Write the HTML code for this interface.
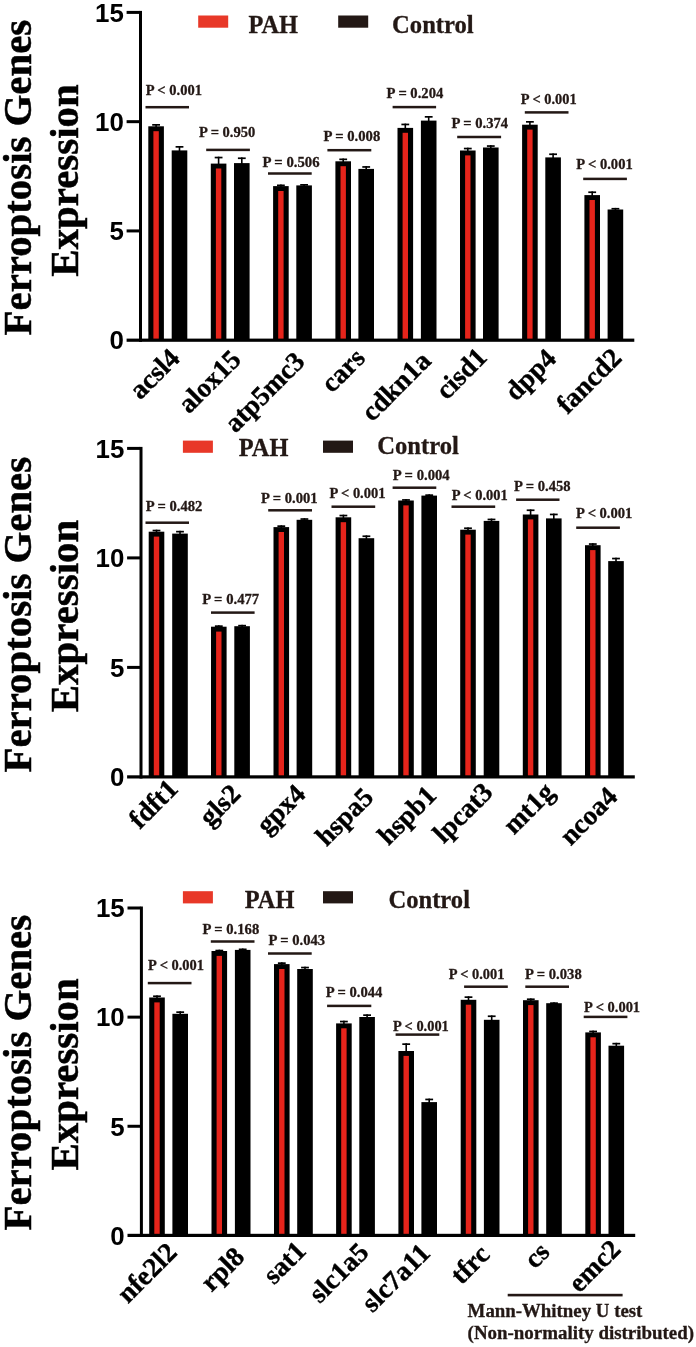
<!DOCTYPE html>
<html><head><meta charset="utf-8"><title>Ferroptosis Genes Expression</title>
<style>
html,body{margin:0;padding:0;background:#fff;}
body{width:696px;height:1347px;overflow:hidden;}
svg{display:block;will-change:transform;}
.se{font-family:"Liberation Serif",serif;font-weight:bold;}
.sa{font-family:"Liberation Sans",sans-serif;font-weight:bold;}
</style></head><body>
<svg width="696" height="1347" viewBox="0 0 696 1347">
<rect width="696" height="1347" fill="#fff"/>
<g>
<text class="se" font-size="40.9" fill="#000" stroke="#000" stroke-width="0.5" text-anchor="middle" textLength="315.6" lengthAdjust="spacingAndGlyphs" transform="translate(31.2,177.6) rotate(-90)">Ferroptosis Genes</text>
<text class="se" font-size="40.9" fill="#000" stroke="#000" stroke-width="0.5" text-anchor="middle" textLength="192.3" lengthAdjust="spacingAndGlyphs" transform="translate(78,180.5) rotate(-90)">Expression</text>
<rect x="155.3" y="124" width="1.6" height="3.3" fill="#000"/><rect x="152.2" y="124" width="7.8" height="1.7" fill="#000"/><rect x="178.7" y="146" width="1.6" height="5.4" fill="#000"/><rect x="175.6" y="146" width="7.8" height="1.7" fill="#000"/><rect x="148.3" y="126.3" width="15.6" height="213.9" fill="#000"/><rect x="153.4" y="131.2" width="5.4" height="209" fill="#E6241B"/><rect x="171.7" y="150.4" width="15.6" height="189.8" fill="#000"/>
<rect x="217.8" y="156.7" width="1.6" height="7.9" fill="#000"/><rect x="214.7" y="156.7" width="7.8" height="1.7" fill="#000"/><rect x="241" y="157.4" width="1.6" height="6.7" fill="#000"/><rect x="237.9" y="157.4" width="7.8" height="1.7" fill="#000"/><rect x="210.8" y="163.6" width="15.6" height="176.6" fill="#000"/><rect x="215.9" y="168.5" width="5.4" height="171.7" fill="#E6241B"/><rect x="234" y="163.1" width="15.6" height="177.1" fill="#000"/>
<rect x="280.1" y="184.5" width="1.6" height="2.6" fill="#000"/><rect x="277" y="184.5" width="7.8" height="1.7" fill="#000"/><rect x="303.3" y="184" width="1.6" height="2.4" fill="#000"/><rect x="300.2" y="184" width="7.8" height="1.7" fill="#000"/><rect x="273.1" y="186.1" width="15.6" height="154.1" fill="#000"/><rect x="278.2" y="191" width="5.4" height="149.2" fill="#E6241B"/><rect x="296.3" y="185.4" width="15.6" height="154.8" fill="#000"/>
<rect x="342.4" y="158.5" width="1.6" height="3.8" fill="#000"/><rect x="339.3" y="158.5" width="7.8" height="1.7" fill="#000"/><rect x="365.4" y="166.1" width="1.6" height="3.8" fill="#000"/><rect x="362.3" y="166.1" width="7.8" height="1.7" fill="#000"/><rect x="335.4" y="161.3" width="15.6" height="178.9" fill="#000"/><rect x="340.5" y="166.2" width="5.4" height="174" fill="#E6241B"/><rect x="358.4" y="168.9" width="15.6" height="171.3" fill="#000"/>
<rect x="404.5" y="123.6" width="1.6" height="5.3" fill="#000"/><rect x="401.4" y="123.6" width="7.8" height="1.7" fill="#000"/><rect x="427.9" y="116" width="1.6" height="5.6" fill="#000"/><rect x="424.8" y="116" width="7.8" height="1.7" fill="#000"/><rect x="397.5" y="127.9" width="15.6" height="212.3" fill="#000"/><rect x="402.6" y="132.8" width="5.4" height="207.4" fill="#E6241B"/><rect x="420.9" y="120.6" width="15.6" height="219.6" fill="#000"/>
<rect x="467" y="147.7" width="1.6" height="3.8" fill="#000"/><rect x="463.9" y="147.7" width="7.8" height="1.7" fill="#000"/><rect x="490" y="145.2" width="1.6" height="3.3" fill="#000"/><rect x="486.9" y="145.2" width="7.8" height="1.7" fill="#000"/><rect x="460" y="150.5" width="15.6" height="189.7" fill="#000"/><rect x="465.1" y="155.4" width="5.4" height="184.8" fill="#E6241B"/><rect x="483" y="147.5" width="15.6" height="192.7" fill="#000"/>
<rect x="529.1" y="121" width="1.6" height="4.7" fill="#000"/><rect x="526" y="121" width="7.8" height="1.7" fill="#000"/><rect x="552.3" y="153.4" width="1.6" height="5" fill="#000"/><rect x="549.2" y="153.4" width="7.8" height="1.7" fill="#000"/><rect x="522.1" y="124.7" width="15.6" height="215.5" fill="#000"/><rect x="527.2" y="129.6" width="5.4" height="210.6" fill="#E6241B"/><rect x="545.3" y="157.4" width="15.6" height="182.8" fill="#000"/>
<rect x="591.4" y="191.4" width="1.6" height="4.7" fill="#000"/><rect x="588.3" y="191.4" width="7.8" height="1.7" fill="#000"/><rect x="614.6" y="207.9" width="1.6" height="2.6" fill="#000"/><rect x="611.5" y="207.9" width="7.8" height="1.7" fill="#000"/><rect x="584.4" y="195.1" width="15.6" height="145.1" fill="#000"/><rect x="589.5" y="200" width="5.4" height="140.2" fill="#E6241B"/><rect x="607.6" y="209.5" width="15.6" height="130.7" fill="#000"/>
<rect x="139" y="10.9" width="3" height="330.9" fill="#000"/><rect x="126.6" y="338.6" width="507.7" height="3.2" fill="#000"/><rect x="126.6" y="10.9" width="13" height="3" fill="#000"/><rect x="126.6" y="120.17" width="13" height="3" fill="#000"/><rect x="126.6" y="229.43" width="13" height="3" fill="#000"/><text class="sa" font-size="25.9" fill="#000" text-anchor="end" x="123.8" y="21.65">15</text><text class="sa" font-size="25.9" fill="#000" text-anchor="end" x="123.8" y="130.92">10</text><text class="sa" font-size="25.9" fill="#000" text-anchor="end" x="123.8" y="240.18">5</text><text class="sa" font-size="25.9" fill="#000" text-anchor="end" x="123.8" y="349.45">0</text>
<rect x="145.5" y="105.95" width="43.5" height="2.5" fill="#231815"/><text class="se" font-size="14.6" fill="#231815" stroke="#231815" stroke-width="0.3" x="145.7" y="94.8" textLength="56.2" lengthAdjust="spacingAndGlyphs">P &lt; 0.001</text>
<rect x="206.2" y="148.65" width="43.7" height="2.5" fill="#231815"/><text class="se" font-size="14.6" fill="#231815" stroke="#231815" stroke-width="0.3" x="199" y="137.3" textLength="56.3" lengthAdjust="spacingAndGlyphs">P = 0.950</text>
<rect x="268" y="172.25" width="43.7" height="2.5" fill="#231815"/><text class="se" font-size="14.6" fill="#231815" stroke="#231815" stroke-width="0.3" x="262.5" y="166.7" textLength="57.1" lengthAdjust="spacingAndGlyphs">P = 0.506</text>
<rect x="327.4" y="148.95" width="43.9" height="2.5" fill="#231815"/><text class="se" font-size="14.6" fill="#231815" stroke="#231815" stroke-width="0.3" x="323.4" y="141.2" textLength="56.9" lengthAdjust="spacingAndGlyphs">P = 0.008</text>
<rect x="392.6" y="105.85" width="43.5" height="2.5" fill="#231815"/><text class="se" font-size="14.6" fill="#231815" stroke="#231815" stroke-width="0.3" x="386.6" y="98.4" textLength="56.7" lengthAdjust="spacingAndGlyphs">P = 0.204</text>
<rect x="457.2" y="135.75" width="43.9" height="2.5" fill="#231815"/><text class="se" font-size="14.6" fill="#231815" stroke="#231815" stroke-width="0.3" x="451.4" y="128.1" textLength="56.7" lengthAdjust="spacingAndGlyphs">P = 0.374</text>
<rect x="524.8" y="111.15" width="43.7" height="2.5" fill="#231815"/><text class="se" font-size="14.6" fill="#231815" stroke="#231815" stroke-width="0.3" x="520.8" y="103.6" textLength="55.8" lengthAdjust="spacingAndGlyphs">P &lt; 0.001</text>
<rect x="583.2" y="177.65" width="43.7" height="2.5" fill="#231815"/><text class="se" font-size="14.6" fill="#231815" stroke="#231815" stroke-width="0.3" x="576.3" y="169" textLength="56.4" lengthAdjust="spacingAndGlyphs">P &lt; 0.001</text>
<text class="se" font-size="27.3" fill="#000" stroke="#000" stroke-width="0.4" text-anchor="end" transform="translate(181.1,359.8) rotate(-45)">acsl4</text>
<text class="se" font-size="27.3" fill="#000" stroke="#000" stroke-width="0.4" text-anchor="end" transform="translate(242.5,361) rotate(-45)">alox15</text>
<text class="se" font-size="27.3" fill="#000" stroke="#000" stroke-width="0.4" text-anchor="end" transform="translate(306.2,363) rotate(-45)">atp5mc3</text>
<text class="se" font-size="27.3" fill="#000" stroke="#000" stroke-width="0.4" text-anchor="end" transform="translate(366.4,359.5) rotate(-45)">cars</text>
<text class="se" font-size="27.3" fill="#000" stroke="#000" stroke-width="0.4" text-anchor="end" transform="translate(432.4,362.4) rotate(-45)">cdkn1a</text>
<text class="se" font-size="27.3" fill="#000" stroke="#000" stroke-width="0.4" text-anchor="end" transform="translate(488.5,358.9) rotate(-45)">cisd1</text>
<text class="se" font-size="27.3" fill="#000" stroke="#000" stroke-width="0.4" text-anchor="end" transform="translate(557.6,360.1) rotate(-45)">dpp4</text>
<text class="se" font-size="27.3" fill="#000" stroke="#000" stroke-width="0.4" text-anchor="end" transform="translate(623.2,359.3) rotate(-45)">fancd2</text>
<rect x="198.2" y="15.5" width="30" height="12.2" fill="#E83828"/><rect x="338.2" y="15.5" width="30" height="12.2" fill="#231815"/><text class="se" font-size="24.2" fill="#231815" stroke="#231815" stroke-width="0.3" x="248.4" y="32.8" textLength="49.6" lengthAdjust="spacingAndGlyphs">PAH</text><text class="se" font-size="24.2" fill="#231815" stroke="#231815" stroke-width="0.3" x="392.1" y="32.8" textLength="81.6" lengthAdjust="spacingAndGlyphs">Control</text>
</g>
<g>
<text class="se" font-size="40.9" fill="#000" stroke="#000" stroke-width="0.5" text-anchor="middle" textLength="315.6" lengthAdjust="spacingAndGlyphs" transform="translate(31.2,614.7) rotate(-90)">Ferroptosis Genes</text>
<text class="se" font-size="40.9" fill="#000" stroke="#000" stroke-width="0.5" text-anchor="middle" textLength="192.3" lengthAdjust="spacingAndGlyphs" transform="translate(78,616) rotate(-90)">Expression</text>
<rect x="155.7" y="529.7" width="1.6" height="3" fill="#000"/><rect x="152.6" y="529.7" width="7.8" height="1.7" fill="#000"/><rect x="179.2" y="530.8" width="1.6" height="3.8" fill="#000"/><rect x="176.1" y="530.8" width="7.8" height="1.7" fill="#000"/><rect x="148.7" y="531.7" width="15.6" height="245.2" fill="#000"/><rect x="153.8" y="536.6" width="5.4" height="240.3" fill="#E6241B"/><rect x="172.2" y="533.6" width="15.6" height="243.3" fill="#000"/>
<rect x="218" y="625.3" width="1.6" height="2.4" fill="#000"/><rect x="214.9" y="625.3" width="7.8" height="1.7" fill="#000"/><rect x="241.3" y="624.8" width="1.6" height="2.4" fill="#000"/><rect x="238.2" y="624.8" width="7.8" height="1.7" fill="#000"/><rect x="211" y="626.7" width="15.6" height="150.2" fill="#000"/><rect x="216.1" y="631.6" width="5.4" height="145.3" fill="#E6241B"/><rect x="234.3" y="626.2" width="15.6" height="150.7" fill="#000"/>
<rect x="280.5" y="525.3" width="1.6" height="2.8" fill="#000"/><rect x="277.4" y="525.3" width="7.8" height="1.7" fill="#000"/><rect x="303.6" y="518.2" width="1.6" height="2.6" fill="#000"/><rect x="300.5" y="518.2" width="7.8" height="1.7" fill="#000"/><rect x="273.5" y="527.1" width="15.6" height="249.8" fill="#000"/><rect x="278.6" y="532" width="5.4" height="244.9" fill="#E6241B"/><rect x="296.6" y="519.8" width="15.6" height="257.1" fill="#000"/>
<rect x="342.6" y="514.7" width="1.6" height="3.6" fill="#000"/><rect x="339.5" y="514.7" width="7.8" height="1.7" fill="#000"/><rect x="365.6" y="535.4" width="1.6" height="3.8" fill="#000"/><rect x="362.5" y="535.4" width="7.8" height="1.7" fill="#000"/><rect x="335.6" y="517.3" width="15.6" height="259.6" fill="#000"/><rect x="340.7" y="522.2" width="5.4" height="254.7" fill="#E6241B"/><rect x="358.6" y="538.2" width="15.6" height="238.7" fill="#000"/>
<rect x="405.2" y="499.1" width="1.6" height="2.4" fill="#000"/><rect x="402.1" y="499.1" width="7.8" height="1.7" fill="#000"/><rect x="428.4" y="494.3" width="1.6" height="2.3" fill="#000"/><rect x="425.3" y="494.3" width="7.8" height="1.7" fill="#000"/><rect x="398.2" y="500.5" width="15.6" height="276.4" fill="#000"/><rect x="403.3" y="505.4" width="5.4" height="271.5" fill="#E6241B"/><rect x="421.4" y="495.6" width="15.6" height="281.3" fill="#000"/>
<rect x="467.2" y="527.4" width="1.6" height="3.3" fill="#000"/><rect x="464.1" y="527.4" width="7.8" height="1.7" fill="#000"/><rect x="490.7" y="518.6" width="1.6" height="3.3" fill="#000"/><rect x="487.6" y="518.6" width="7.8" height="1.7" fill="#000"/><rect x="460.2" y="529.7" width="15.6" height="247.2" fill="#000"/><rect x="465.3" y="534.6" width="5.4" height="242.3" fill="#E6241B"/><rect x="483.7" y="520.9" width="15.6" height="256" fill="#000"/>
<rect x="529.8" y="509.4" width="1.6" height="6.1" fill="#000"/><rect x="526.7" y="509.4" width="7.8" height="1.7" fill="#000"/><rect x="553" y="513.6" width="1.6" height="5.8" fill="#000"/><rect x="549.9" y="513.6" width="7.8" height="1.7" fill="#000"/><rect x="522.8" y="514.5" width="15.6" height="262.4" fill="#000"/><rect x="527.9" y="519.4" width="5.4" height="257.5" fill="#E6241B"/><rect x="546" y="518.4" width="15.6" height="258.5" fill="#000"/>
<rect x="592" y="543.2" width="1.6" height="3" fill="#000"/><rect x="588.9" y="543.2" width="7.8" height="1.7" fill="#000"/><rect x="615.2" y="557.7" width="1.6" height="4.4" fill="#000"/><rect x="612.1" y="557.7" width="7.8" height="1.7" fill="#000"/><rect x="585" y="545.2" width="15.6" height="231.7" fill="#000"/><rect x="590.1" y="550.1" width="5.4" height="226.8" fill="#E6241B"/><rect x="608.2" y="561.1" width="15.6" height="215.8" fill="#000"/>
<rect x="139.5" y="446.9" width="3" height="331.6" fill="#000"/><rect x="127.1" y="775.3" width="507.7" height="3.2" fill="#000"/><rect x="127.1" y="446.9" width="13" height="3" fill="#000"/><rect x="127.1" y="556.4" width="13" height="3" fill="#000"/><rect x="127.1" y="665.9" width="13" height="3" fill="#000"/><text class="sa" font-size="25.9" fill="#000" text-anchor="end" x="124.3" y="457.65">15</text><text class="sa" font-size="25.9" fill="#000" text-anchor="end" x="124.3" y="567.15">10</text><text class="sa" font-size="25.9" fill="#000" text-anchor="end" x="124.3" y="676.65">5</text><text class="sa" font-size="25.9" fill="#000" text-anchor="end" x="124.3" y="786.15">0</text>
<rect x="145.5" y="521.45" width="43.5" height="2.5" fill="#231815"/><text class="se" font-size="14.6" fill="#231815" stroke="#231815" stroke-width="0.3" x="145.7" y="510.7" textLength="56.6" lengthAdjust="spacingAndGlyphs">P = 0.482</text>
<rect x="211" y="611.35" width="43.6" height="2.5" fill="#231815"/><text class="se" font-size="14.6" fill="#231815" stroke="#231815" stroke-width="0.3" x="202.3" y="604.3" textLength="56.9" lengthAdjust="spacingAndGlyphs">P = 0.477</text>
<rect x="268.2" y="509.05" width="43.8" height="2.5" fill="#231815"/><text class="se" font-size="14.6" fill="#231815" stroke="#231815" stroke-width="0.3" x="261" y="503" textLength="56.5" lengthAdjust="spacingAndGlyphs">P = 0.001</text>
<rect x="331.5" y="505.45" width="43.7" height="2.5" fill="#231815"/><text class="se" font-size="14.6" fill="#231815" stroke="#231815" stroke-width="0.3" x="329.4" y="498" textLength="56" lengthAdjust="spacingAndGlyphs">P &lt; 0.001</text>
<rect x="392.6" y="486.45" width="43.7" height="2.5" fill="#231815"/><text class="se" font-size="14.6" fill="#231815" stroke="#231815" stroke-width="0.3" x="392.8" y="479.9" textLength="56.9" lengthAdjust="spacingAndGlyphs">P = 0.004</text>
<rect x="451.5" y="505.45" width="43.7" height="2.5" fill="#231815"/><text class="se" font-size="14.6" fill="#231815" stroke="#231815" stroke-width="0.3" x="451.7" y="500" textLength="56" lengthAdjust="spacingAndGlyphs">P &lt; 0.001</text>
<rect x="516.1" y="498.45" width="43.4" height="2.5" fill="#231815"/><text class="se" font-size="14.6" fill="#231815" stroke="#231815" stroke-width="0.3" x="514" y="491.4" textLength="56.6" lengthAdjust="spacingAndGlyphs">P = 0.458</text>
<rect x="576.2" y="526.45" width="43.7" height="2.5" fill="#231815"/><text class="se" font-size="14.6" fill="#231815" stroke="#231815" stroke-width="0.3" x="575.9" y="517.6" textLength="56.5" lengthAdjust="spacingAndGlyphs">P &lt; 0.001</text>
<text class="se" font-size="27.3" fill="#000" stroke="#000" stroke-width="0.4" text-anchor="end" transform="translate(179.45,790.3) rotate(-45)">fdft1</text>
<text class="se" font-size="27.3" fill="#000" stroke="#000" stroke-width="0.4" text-anchor="end" transform="translate(242.25,795.4) rotate(-45)">gls2</text>
<text class="se" font-size="27.3" fill="#000" stroke="#000" stroke-width="0.4" text-anchor="end" transform="translate(306.85,795.5) rotate(-45)">gpx4</text>
<text class="se" font-size="27.3" fill="#000" stroke="#000" stroke-width="0.4" text-anchor="end" transform="translate(374.9,798.9) rotate(-45)">hspa5</text>
<text class="se" font-size="27.3" fill="#000" stroke="#000" stroke-width="0.4" text-anchor="end" transform="translate(437.8,796.8) rotate(-45)">hspb1</text>
<text class="se" font-size="27.3" fill="#000" stroke="#000" stroke-width="0.4" text-anchor="end" transform="translate(494.25,793.8) rotate(-45)">lpcat3</text>
<text class="se" font-size="27.3" fill="#000" stroke="#000" stroke-width="0.4" text-anchor="end" transform="translate(555.8,793.7) rotate(-45)">mt1g</text>
<text class="se" font-size="27.3" fill="#000" stroke="#000" stroke-width="0.4" text-anchor="end" transform="translate(618.9,798.2) rotate(-45)">ncoa4</text>
<rect x="182.9" y="440.6" width="30" height="12.2" fill="#E83828"/><rect x="323" y="440.6" width="30" height="12.2" fill="#231815"/><text class="se" font-size="24.2" fill="#231815" stroke="#231815" stroke-width="0.3" x="238.8" y="455.7" textLength="49.6" lengthAdjust="spacingAndGlyphs">PAH</text><text class="se" font-size="24.2" fill="#231815" stroke="#231815" stroke-width="0.3" x="377.2" y="453.9" textLength="81.6" lengthAdjust="spacingAndGlyphs">Control</text>
</g>
<g>
<text class="se" font-size="40.9" fill="#000" stroke="#000" stroke-width="0.5" text-anchor="middle" textLength="315.6" lengthAdjust="spacingAndGlyphs" transform="translate(31.2,1072.7) rotate(-90)">Ferroptosis Genes</text>
<text class="se" font-size="40.9" fill="#000" stroke="#000" stroke-width="0.5" text-anchor="middle" textLength="192.3" lengthAdjust="spacingAndGlyphs" transform="translate(78,1074.4) rotate(-90)">Expression</text>
<rect x="156.2" y="995.4" width="1.6" height="3.1" fill="#000"/><rect x="153.1" y="995.4" width="7.8" height="1.7" fill="#000"/><rect x="179.4" y="1011.3" width="1.6" height="3.5" fill="#000"/><rect x="176.3" y="1011.3" width="7.8" height="1.7" fill="#000"/><rect x="149.2" y="997.5" width="15.6" height="237.9" fill="#000"/><rect x="154.3" y="1002.4" width="5.4" height="233" fill="#E6241B"/><rect x="172.4" y="1013.8" width="15.6" height="221.6" fill="#000"/>
<rect x="218.5" y="949.7" width="1.6" height="2.3" fill="#000"/><rect x="215.4" y="949.7" width="7.8" height="1.7" fill="#000"/><rect x="241.9" y="948.5" width="1.6" height="2.4" fill="#000"/><rect x="238.8" y="948.5" width="7.8" height="1.7" fill="#000"/><rect x="211.5" y="951" width="15.6" height="284.4" fill="#000"/><rect x="216.6" y="955.9" width="5.4" height="279.5" fill="#E6241B"/><rect x="234.9" y="949.9" width="15.6" height="285.5" fill="#000"/>
<rect x="281" y="962.3" width="1.6" height="2.8" fill="#000"/><rect x="277.9" y="962.3" width="7.8" height="1.7" fill="#000"/><rect x="304.2" y="966.7" width="1.6" height="3.3" fill="#000"/><rect x="301.1" y="966.7" width="7.8" height="1.7" fill="#000"/><rect x="274" y="964.1" width="15.6" height="271.3" fill="#000"/><rect x="279.1" y="969" width="5.4" height="266.4" fill="#E6241B"/><rect x="297.2" y="969" width="15.6" height="266.4" fill="#000"/>
<rect x="343.1" y="1020.7" width="1.6" height="3.7" fill="#000"/><rect x="340" y="1020.7" width="7.8" height="1.7" fill="#000"/><rect x="366.3" y="1014.3" width="1.6" height="3.7" fill="#000"/><rect x="363.2" y="1014.3" width="7.8" height="1.7" fill="#000"/><rect x="336.1" y="1023.4" width="15.6" height="212" fill="#000"/><rect x="341.2" y="1028.3" width="5.4" height="207.1" fill="#E6241B"/><rect x="359.3" y="1017" width="15.6" height="218.4" fill="#000"/>
<rect x="405.4" y="1043.3" width="1.6" height="8.7" fill="#000"/><rect x="402.3" y="1043.3" width="7.8" height="1.7" fill="#000"/><rect x="428.4" y="1098.6" width="1.6" height="4.5" fill="#000"/><rect x="425.3" y="1098.6" width="7.8" height="1.7" fill="#000"/><rect x="398.4" y="1051" width="15.6" height="184.4" fill="#000"/><rect x="403.5" y="1055.9" width="5.4" height="179.5" fill="#E6241B"/><rect x="421.4" y="1102.1" width="15.6" height="133.3" fill="#000"/>
<rect x="467.7" y="996.3" width="1.6" height="4.5" fill="#000"/><rect x="464.6" y="996.3" width="7.8" height="1.7" fill="#000"/><rect x="490.9" y="1015.4" width="1.6" height="5.4" fill="#000"/><rect x="487.8" y="1015.4" width="7.8" height="1.7" fill="#000"/><rect x="460.7" y="999.8" width="15.6" height="235.6" fill="#000"/><rect x="465.8" y="1004.7" width="5.4" height="230.7" fill="#E6241B"/><rect x="483.9" y="1019.8" width="15.6" height="215.6" fill="#000"/>
<rect x="530" y="998.4" width="1.6" height="2.8" fill="#000"/><rect x="526.9" y="998.4" width="7.8" height="1.7" fill="#000"/><rect x="553.2" y="1002.3" width="1.6" height="1.9" fill="#000"/><rect x="550.1" y="1002.3" width="7.8" height="1.7" fill="#000"/><rect x="523" y="1000.2" width="15.6" height="235.2" fill="#000"/><rect x="528.1" y="1005.1" width="5.4" height="230.3" fill="#E6241B"/><rect x="546.2" y="1003.2" width="15.6" height="232.2" fill="#000"/>
<rect x="592.3" y="1030.6" width="1.6" height="2.8" fill="#000"/><rect x="589.2" y="1030.6" width="7.8" height="1.7" fill="#000"/><rect x="615.5" y="1042.8" width="1.6" height="3.9" fill="#000"/><rect x="612.4" y="1042.8" width="7.8" height="1.7" fill="#000"/><rect x="585.3" y="1032.4" width="15.6" height="203" fill="#000"/><rect x="590.4" y="1037.3" width="5.4" height="198.1" fill="#E6241B"/><rect x="608.5" y="1045.7" width="15.6" height="189.7" fill="#000"/>
<rect x="139.9" y="906.5" width="3" height="330.5" fill="#000"/><rect x="127.5" y="1233.8" width="507.7" height="3.2" fill="#000"/><rect x="127.5" y="906.5" width="13" height="3" fill="#000"/><rect x="127.5" y="1015.63" width="13" height="3" fill="#000"/><rect x="127.5" y="1124.77" width="13" height="3" fill="#000"/><text class="sa" font-size="25.9" fill="#000" text-anchor="end" x="124.7" y="917.25">15</text><text class="sa" font-size="25.9" fill="#000" text-anchor="end" x="124.7" y="1026.38">10</text><text class="sa" font-size="25.9" fill="#000" text-anchor="end" x="124.7" y="1135.52">5</text><text class="sa" font-size="25.9" fill="#000" text-anchor="end" x="124.7" y="1244.65">0</text>
<rect x="147.8" y="981.85" width="43.7" height="2.5" fill="#231815"/><text class="se" font-size="14.6" fill="#231815" stroke="#231815" stroke-width="0.3" x="148" y="970" textLength="56" lengthAdjust="spacingAndGlyphs">P &lt; 0.001</text>
<rect x="210.8" y="940.25" width="43.7" height="2.5" fill="#231815"/><text class="se" font-size="14.6" fill="#231815" stroke="#231815" stroke-width="0.3" x="202.5" y="933.7" textLength="56.7" lengthAdjust="spacingAndGlyphs">P = 0.168</text>
<rect x="268" y="952.25" width="43.7" height="2.5" fill="#231815"/><text class="se" font-size="14.6" fill="#231815" stroke="#231815" stroke-width="0.3" x="268.4" y="945.4" textLength="56.7" lengthAdjust="spacingAndGlyphs">P = 0.043</text>
<rect x="327.1" y="1004.65" width="44.2" height="2.5" fill="#231815"/><text class="se" font-size="14.6" fill="#231815" stroke="#231815" stroke-width="0.3" x="325.7" y="996.5" textLength="56.7" lengthAdjust="spacingAndGlyphs">P = 0.044</text>
<rect x="395.6" y="1033.35" width="43.7" height="2.5" fill="#231815"/><text class="se" font-size="14.6" fill="#231815" stroke="#231815" stroke-width="0.3" x="393" y="1030.9" textLength="55.8" lengthAdjust="spacingAndGlyphs">P &lt; 0.001</text>
<rect x="464.1" y="985.45" width="43.7" height="2.5" fill="#231815"/><text class="se" font-size="14.6" fill="#231815" stroke="#231815" stroke-width="0.3" x="448.7" y="979.2" textLength="55.7" lengthAdjust="spacingAndGlyphs">P &lt; 0.001</text>
<rect x="525.3" y="985.45" width="43.7" height="2.5" fill="#231815"/><text class="se" font-size="14.6" fill="#231815" stroke="#231815" stroke-width="0.3" x="525" y="979.2" textLength="56.7" lengthAdjust="spacingAndGlyphs">P = 0.038</text>
<rect x="583.7" y="1015.65" width="43.7" height="2.5" fill="#231815"/><text class="se" font-size="14.6" fill="#231815" stroke="#231815" stroke-width="0.3" x="584.1" y="1011.9" textLength="56" lengthAdjust="spacingAndGlyphs">P &lt; 0.001</text>
<text class="se" font-size="27.3" fill="#000" stroke="#000" stroke-width="0.4" text-anchor="end" transform="translate(178.3,1253.9) rotate(-45)">nfe2l2</text>
<text class="se" font-size="27.3" fill="#000" stroke="#000" stroke-width="0.4" text-anchor="end" transform="translate(245.9,1258.4) rotate(-45)">rpl8</text>
<text class="se" font-size="27.3" fill="#000" stroke="#000" stroke-width="0.4" text-anchor="end" transform="translate(307.3,1252.3) rotate(-45)">sat1</text>
<text class="se" font-size="27.3" fill="#000" stroke="#000" stroke-width="0.4" text-anchor="end" transform="translate(370.1,1253.8) rotate(-45)">slc1a5</text>
<text class="se" font-size="27.3" fill="#000" stroke="#000" stroke-width="0.4" text-anchor="end" transform="translate(431.6,1254.5) rotate(-45)">slc7a11</text>
<text class="se" font-size="27.3" fill="#000" stroke="#000" stroke-width="0.4" text-anchor="end" transform="translate(491.1,1255.9) rotate(-45)">tfrc</text>
<text class="se" font-size="27.3" fill="#000" stroke="#000" stroke-width="0.4" text-anchor="end" transform="translate(551,1253.6) rotate(-45)">cs</text>
<text class="se" font-size="27.3" fill="#000" stroke="#000" stroke-width="0.4" text-anchor="end" transform="translate(622.1,1250.8) rotate(-45)">emc2</text>
<rect x="182.9" y="891.2" width="30" height="12.2" fill="#E83828"/><rect x="323" y="891.2" width="30" height="12.2" fill="#231815"/><text class="se" font-size="24.2" fill="#231815" stroke="#231815" stroke-width="0.3" x="244.8" y="907.8" textLength="49.6" lengthAdjust="spacingAndGlyphs">PAH</text><text class="se" font-size="24.2" fill="#231815" stroke="#231815" stroke-width="0.3" x="388.4" y="907.8" textLength="81.6" lengthAdjust="spacingAndGlyphs">Control</text>
</g>
<rect x="507.7" y="1293.8" width="114.9" height="2.6" fill="#231815"/>
<text class="se" font-size="18" fill="#231815" stroke="#231815" stroke-width="0.3" x="467.6" y="1316.8" textLength="174.8" lengthAdjust="spacingAndGlyphs">Mann-Whitney U test</text>
<text class="se" font-size="18" fill="#231815" stroke="#231815" stroke-width="0.3" x="467.6" y="1339.4" textLength="226.4" lengthAdjust="spacingAndGlyphs">(Non-normality distributed)</text>
</svg>
</body></html>
